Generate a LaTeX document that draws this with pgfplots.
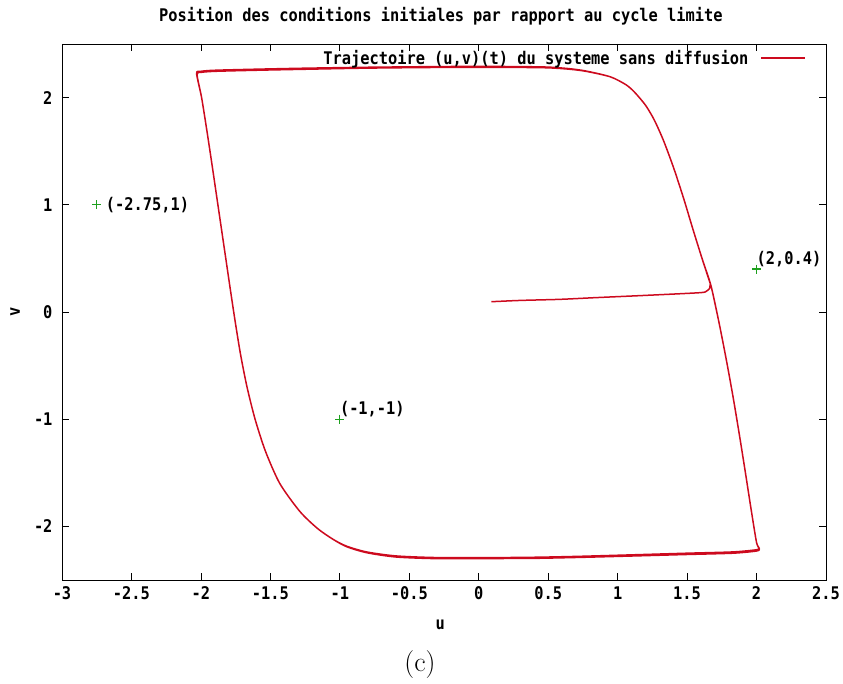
\documentclass[border=0pt]{standalone}
\usepackage{fontspec}
\usepackage{pgfplots}
\pgfplotsset{compat=1.18}
\newfontfamily\gp[FakeStretch=0.88]{DejaVu Sans Mono}
\newcommand\gpf{\gp\bfseries\fontsize{17.5}{19}\selectfont}
\definecolor{gpred}{RGB}{205,10,30}
\definecolor{gpgreen}{RGB}{30,160,30}
\begin{document}
\begin{tikzpicture}
\useasboundingbox (-62bp,-104bp) rectangle (781bp,580bp);
\begin{axis}[
  at={(0,0)}, anchor=south west,
  scale only axis, width=764bp, height=536bp,
  xmin=-3, xmax=2.5, ymin=-2.5, ymax=2.5,
  xtick={-3,-2.5,-2,-1.5,-1,-0.5,0,0.5,1,1.5,2,2.5},
  xticklabels={-3,-2.5,-2,-1.5,-1,-0.5,0,0.5,1,1.5,2,2.5},
  ytick={-2,-1,0,1,2},
  yticklabels={-2,-1,0,1,2},
  tick align=inside, major tick length=7bp,
  xtick pos=both, ytick pos=both,
  ticklabel style={font=\gpf},
  xticklabel style={yshift=-3bp},
  yticklabel style={xshift=-6bp},
  axis line style={line width=0.9bp},
  tick style={line width=0.8bp, black},
  title={Position des conditions initiales par rapport au cycle limite},
  title style={font=\gpf, at={(axis description cs:0.496,1)}, anchor=center, yshift=22bp},
  xlabel={u}, xlabel style={font=\gpf, at={(axis description cs:0.495,0)}, anchor=center, yshift=-45bp},
  ylabel={v}, ylabel style={font=\gpf, at={(axis description cs:-0.0615,0.5)}, anchor=center},
  legend plot pos=right,
  legend cell align=right,
  legend style={at={(axis description cs:1,1)}, anchor=north east, xshift=-18bp, yshift=-2bp,
    draw=none, fill=none, font=\gpf, inner sep=2bp},
  legend image code/.code={\draw[#1] (0bp,0bp) -- (44bp,0bp);},
]
\addplot[gpred, line width=1.5bp, line join=round, smooth, tension=0.45] table {
u v
0.091 0.096
0.30 0.108
0.583 0.118
0.842 0.134
1.20 0.155
1.59 0.180
1.640 0.195
1.662 0.220
1.672 0.245
1.730 -0.100
1.783 -0.450
1.832 -0.800
1.877 -1.150
1.920 -1.500
1.962 -1.850
2.000 -2.150
2.020 -2.210
1.998 -2.230
1.83 -2.250
1.50 -2.262
1.11 -2.276
0.70 -2.290
0.39 -2.298
0.00 -2.300
-0.329 -2.300
-0.60 -2.285
-0.808 -2.245
-0.95 -2.190
-1.048 -2.121
-1.16 -2.020
-1.288 -1.860
-1.432 -1.600
-1.535 -1.300
-1.610 -1.000
-1.668 -0.700
-1.714 -0.400
-1.752 -0.100
-1.787 0.200
-1.821 0.500
-1.855 0.800
-1.889 1.100
-1.923 1.400
-1.958 1.700
-1.995 2.000
-2.031 2.225
-2.00 2.245
-1.90 2.255
-1.60 2.265
-1.261 2.274
-0.80 2.283
-0.21 2.290
0.20 2.290
0.49 2.285
0.65 2.270
0.772 2.248
0.947 2.194
1.06 2.120
1.122 2.050
1.20 1.930
1.263 1.793
1.33 1.600
1.403 1.345
1.475 1.060
1.543 0.768
1.61 0.490
1.672 0.245
1.730 -0.100
1.783 -0.450
1.832 -0.800
1.877 -1.150
1.920 -1.500
1.962 -1.850
2.000 -2.150
2.018 -2.200
1.998 -2.218
1.83 -2.238
1.50 -2.250
1.11 -2.265
0.70 -2.280
0.39 -2.288
0.00 -2.292
-0.329 -2.290
-0.60 -2.275
-0.808 -2.238
-0.95 -2.185
-1.048 -2.121
-1.16 -2.020
-1.288 -1.860
-1.432 -1.600
-1.535 -1.300
-1.610 -1.000
-1.668 -0.700
-1.714 -0.400
-1.752 -0.100
-1.787 0.200
-1.821 0.500
-1.855 0.800
-1.889 1.100
-1.923 1.400
-1.958 1.700
-1.995 2.000
-2.028 2.215
-2.00 2.235
-1.90 2.245
-1.60 2.255
-1.261 2.264
-0.80 2.275
-0.21 2.282
0.20 2.282
0.49 2.278
0.65 2.265
0.772 2.245
0.947 2.194
1.06 2.120
1.122 2.050
1.20 1.930
1.263 1.793
1.33 1.600
1.403 1.345
1.475 1.060
1.543 0.768
1.61 0.490
1.672 0.245
};
\addlegendentry{Trajectoire (u,v)(t) du systeme sans diffusion\rule{10bp}{0pt}}
\addplot[only marks, mark=+, mark size=4.5bp, gpgreen, line width=1.3bp, forget plot] coordinates {
(-2.75,1) (-1,-1) (2,0.4)
};
\node[font=\gpf, anchor=west, inner sep=0pt, xshift=9bp] at (axis cs:-2.75,1) {(-2.75,1)};
\node[font=\gpf, anchor=south west, inner sep=0pt, yshift=2bp] at (axis cs:-1,-1) {(-1,-1)};
\node[font=\gpf, anchor=south west, inner sep=0pt, yshift=2bp] at (axis cs:2,0.4) {(2,0.4)};
\end{axis}
\node[font=\fontsize{28}{32}\selectfont] at (358bp,-85bp) {(c)};
\end{tikzpicture}
\end{document}
